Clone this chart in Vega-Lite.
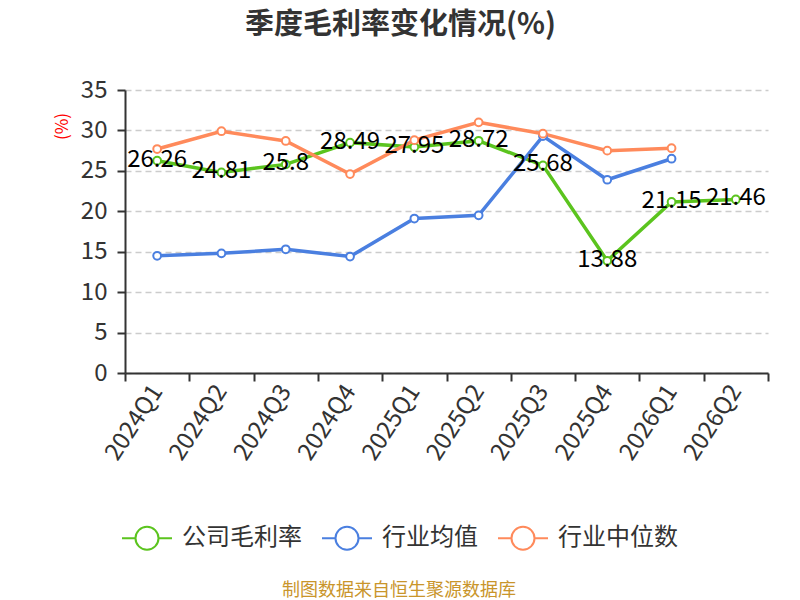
{
  "$schema": "https://vega.github.io/schema/vega-lite/v6.json",
  "width": 643,
  "height": 283,
  "autosize": {"type": "none"},
  "padding": {"left": 125, "top": 90, "right": 32, "bottom": 227},
  "background": "white",
  "config": {
    "font": "Noto Sans CJK SC",
    "view": {"stroke": null}
  },
  "title": {
    "text": "季度毛利率变化情况(%)",
    "fontSize": 29,
    "fontWeight": "bold",
    "color": "#333333",
    "anchor": "middle",
    "frame": "group",
    "dx": -46,
    "baseline": "bottom",
    "offset": 9
  },
  "data": {
    "values": [
      {"季度": "2024Q1", "系列": "公司毛利率", "值": 26.26},
      {"季度": "2024Q2", "系列": "公司毛利率", "值": 24.81},
      {"季度": "2024Q3", "系列": "公司毛利率", "值": 25.8},
      {"季度": "2024Q4", "系列": "公司毛利率", "值": 28.49},
      {"季度": "2025Q1", "系列": "公司毛利率", "值": 27.95},
      {"季度": "2025Q2", "系列": "公司毛利率", "值": 28.72},
      {"季度": "2025Q3", "系列": "公司毛利率", "值": 25.68},
      {"季度": "2025Q4", "系列": "公司毛利率", "值": 13.88},
      {"季度": "2026Q1", "系列": "公司毛利率", "值": 21.15},
      {"季度": "2026Q2", "系列": "公司毛利率", "值": 21.46},
      {"季度": "2024Q1", "系列": "行业均值", "值": 14.5},
      {"季度": "2024Q2", "系列": "行业均值", "值": 14.8},
      {"季度": "2024Q3", "系列": "行业均值", "值": 15.3},
      {"季度": "2024Q4", "系列": "行业均值", "值": 14.4},
      {"季度": "2025Q1", "系列": "行业均值", "值": 19.1},
      {"季度": "2025Q2", "系列": "行业均值", "值": 19.5},
      {"季度": "2025Q3", "系列": "行业均值", "值": 29.3},
      {"季度": "2025Q4", "系列": "行业均值", "值": 23.9},
      {"季度": "2026Q1", "系列": "行业均值", "值": 26.5},
      {"季度": "2024Q1", "系列": "行业中位数", "值": 27.7},
      {"季度": "2024Q2", "系列": "行业中位数", "值": 29.9},
      {"季度": "2024Q3", "系列": "行业中位数", "值": 28.7},
      {"季度": "2024Q4", "系列": "行业中位数", "值": 24.6},
      {"季度": "2025Q1", "系列": "行业中位数", "值": 28.8},
      {"季度": "2025Q2", "系列": "行业中位数", "值": 31.0},
      {"季度": "2025Q3", "系列": "行业中位数", "值": 29.6},
      {"季度": "2025Q4", "系列": "行业中位数", "值": 27.5},
      {"季度": "2026Q1", "系列": "行业中位数", "值": 27.8}
    ]
  },
  "encoding": {
    "x": {
      "field": "季度",
      "type": "ordinal",
      "bandPosition": 0.5,
      "scale": {"type": "band", "paddingInner": 0, "paddingOuter": 0},
      "axis": {
        "title": null,
        "labelAngle": -57,
        "labelFontSize": 24,
        "labelColor": "#333333",
        "labelPadding": 6,
        "tickBand": "extent",
        "tickSize": 8,
        "tickWidth": 2,
        "tickColor": "#333333",
        "domainColor": "#333333",
        "domainWidth": 2,
        "grid": false
      }
    },
    "y": {
      "field": "值",
      "type": "quantitative",
      "scale": {"domain": [0, 35], "nice": false},
      "axis": {
        "values": [0, 5, 10, 15, 20, 25, 30, 35],
        "labelFontSize": 24,
        "labelColor": "#333333",
        "labelPadding": 10,
        "tickSize": 8,
        "tickWidth": 2,
        "tickColor": "#333333",
        "domainColor": "#333333",
        "domainWidth": 2,
        "grid": true,
        "gridDash": [6, 4],
        "gridColor": "#cccccc",
        "gridWidth": 1.5,
        "title": "(%)",
        "titleColor": "red",
        "titleFontSize": 17,
        "titleFontWeight": "normal",
        "titleX": -63,
        "titleY": 36,
        "titleAlign": "center",
        "titleBaseline": "middle"
      }
    }
  },
  "layer": [
    {
      "mark": {"type": "line", "strokeWidth": 3.5},
      "encoding": {
        "color": {
          "field": "系列",
          "type": "nominal",
          "sort": ["公司毛利率", "行业均值", "行业中位数"],
          "scale": {
            "domain": ["公司毛利率", "行业均值", "行业中位数"],
            "range": ["#5BC41E", "#4A7FE0", "#FF8A5B"]
          },
          "legend": {
            "orient": "none",
            "legendX": -4,
            "legendY": 422,
            "direction": "horizontal",
            "symbolType": "M-1,0L-0.46,0M0.46,0L1,0M0.46,0A0.46,0.46,0,1,1,-0.46,0A0.46,0.46,0,1,1,0.46,0Z",
            "symbolSize": 2500,
            "symbolStrokeWidth": 2,
            "symbolFillColor": "white",
            "labelFontSize": 24,
            "labelColor": "#333333",
            "labelOffset": 9,
            "columnPadding": 16,
            "title": "制图数据来自恒生聚源数据库",
            "titleOrient": "bottom",
            "titleAnchor": "middle",
            "titleFontSize": 18,
            "titleFontWeight": "normal",
            "titleColor": "#C9952B",
            "titlePadding": 28,
            "titleLimit": 0
          }
        }
      }
    },
    {
      "mark": {"type": "point", "filled": false, "fill": "white", "size": 60, "strokeWidth": 2, "opacity": 1},
      "encoding": {
        "color": {"field": "系列", "type": "nominal", "sort": ["公司毛利率", "行业均值", "行业中位数"]}
      }
    },
    {
      "transform": [{"filter": "datum['系列'] === '公司毛利率'"}],
      "mark": {"type": "text", "fontSize": 24, "color": "black", "baseline": "middle", "dy": -1},
      "encoding": {
        "text": {"field": "值", "type": "quantitative"}
      }
    }
  ]
}
